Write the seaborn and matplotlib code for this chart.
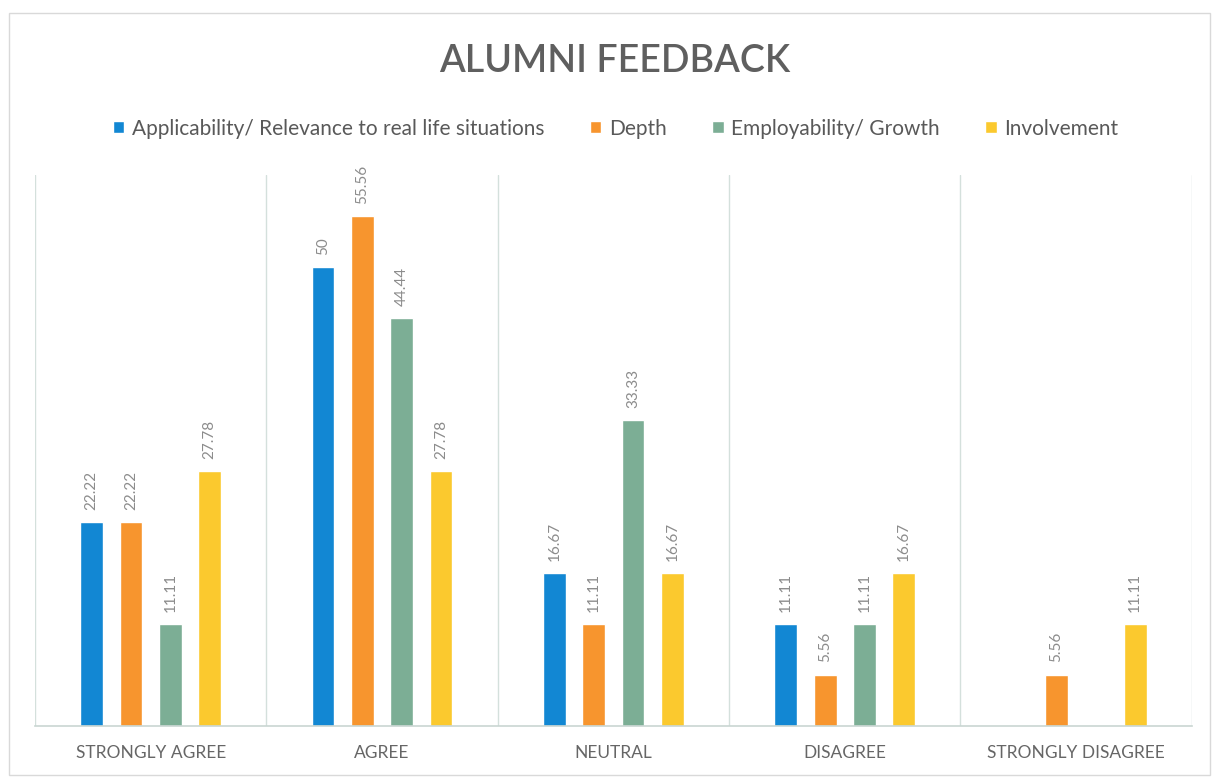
import matplotlib
matplotlib.use("Agg")
import matplotlib.pyplot as plt
import pandas as pd
import seaborn as sns
from matplotlib.patches import Rectangle

CATEGORIES = ["STRONGLY AGREE", "AGREE", "NEUTRAL", "DISAGREE", "STRONGLY DISAGREE"]
SERIES = [
    "Applicability/ Relevance to real life situations",
    "Depth",
    "Employability/ Growth",
    "Involvement",
]
APPLICABILITY = [22.22, 50, 16.67, 11.11, 0]
DEPTH = [22.22, 55.56, 11.11, 5.56, 5.56]
EMPLOYABILITY = [11.11, 44.44, 33.33, 11.11, 0]
INVOLVEMENT = [27.78, 27.78, 16.67, 16.67, 11.11]
COLORS = ["#1287d3", "#f7952e", "#7cae95", "#fbc92e"]


def build_frame() -> pd.DataFrame:
    rows = []
    for name, values in zip(SERIES, [APPLICABILITY, DEPTH, EMPLOYABILITY, INVOLVEMENT]):
        for cat, val in zip(CATEGORIES, values):
            rows.append({"category": cat, "series": name, "value": val})
    return pd.DataFrame(rows)


def main() -> None:
    sns.set_theme(style="white")
    plt.rcParams["font.family"] = ["Lato", "DejaVu Sans"]

    df = build_frame()
    fig = plt.figure(figsize=(12.19, 7.79), dpi=100)
    ax = fig.add_axes([0.0287, 0.068, 0.949, 0.707])

    sns.barplot(
        data=df, x="category", y="value", hue="series",
        order=CATEGORIES, hue_order=SERIES, palette=COLORS, saturation=1,
        width=0.68, gap=0.42, ax=ax, legend=True,
    )

    for container, values in zip(ax.containers, [APPLICABILITY, DEPTH, EMPLOYABILITY, INVOLVEMENT]):
        labels = [("%g" % v) if v > 0 else "" for v in values]
        ax.bar_label(container, labels=labels, rotation=90, padding=9,
                     fontsize=11, color="#8c8c8c")

    ax.set_ylim(0, 60)
    ax.set_xlim(-0.5, len(CATEGORIES) - 0.5)
    ax.set_yticks([])
    ax.set_xlabel("")
    ax.set_ylabel("")
    ax.tick_params(axis="x", length=0, pad=14, labelsize=12.5, labelcolor="#666666")

    for x in [i - 0.5 for i in range(len(CATEGORIES) + 1)]:
        ax.axvline(x, color="#d4e0dc", linewidth=1.0, zorder=0)
    for side in ["top", "left", "right"]:
        ax.spines[side].set_visible(False)
    ax.spines["bottom"].set_color("#c9d6d2")
    ax.spines["bottom"].set_linewidth(1.2)

    ax.legend(
        loc="center", bbox_to_anchor=(0.505, 0.835), bbox_transform=fig.transFigure,
        ncol=4, frameon=False, fontsize=15, handlelength=0.55, handleheight=0.55,
        handletextpad=0.35, columnspacing=2.2, labelcolor="#595959",
    )

    fig.text(0.504, 0.921, "ALUMNI FEEDBACK", ha="center", va="center",
             fontsize=27, color="#5f5f5f", fontweight="semibold")

    fig.patches.append(Rectangle((0.007, 0.005), 0.986, 0.978, transform=fig.transFigure,
                                 fill=False, edgecolor="#d9d9d9", linewidth=1.0))

    fig.savefig("out.png", dpi=100)


if __name__ == "__main__":
    main()
